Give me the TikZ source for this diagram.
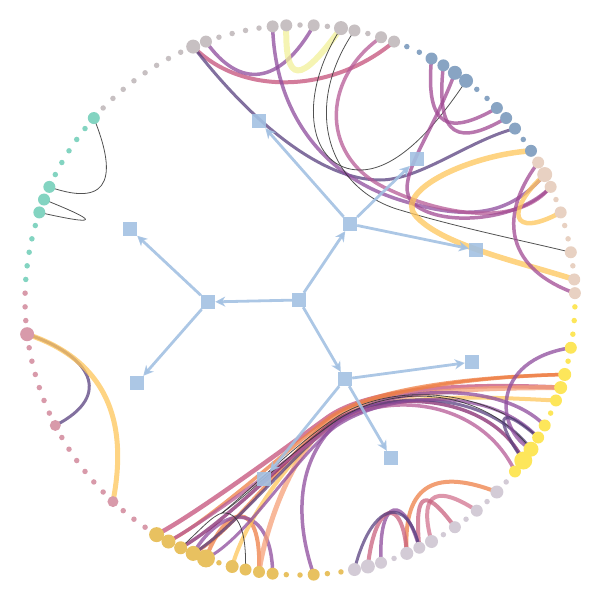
\documentclass[tikz,border=0pt]{standalone}
\usetikzlibrary{arrows.meta}
\definecolor{cY}{HTML}{FDE65A}
\definecolor{cL}{HTML}{D3CBD6}
\definecolor{cG}{HTML}{E8C160}
\definecolor{cP}{HTML}{D89AAA}
\definecolor{cT}{HTML}{83D4C1}
\definecolor{cA}{HTML}{C7C0C2}
\definecolor{cB}{HTML}{88A4C3}
\definecolor{cN}{HTML}{E8D1C2}
\definecolor{tree}{HTML}{A3C1E2}
\definecolor{ecrim}{HTML}{C4507A}
\definecolor{enavy}{HTML}{58407F}
\definecolor{epurp}{HTML}{8D4B9C}
\definecolor{emag}{HTML}{A04A93}
\definecolor{epale}{HTML}{F2F09A}
\definecolor{eyel}{HTML}{FEC55A}
\definecolor{eora}{HTML}{EE7F45}
\definecolor{esal}{HTML}{F6A078}
\definecolor{epink}{HTML}{D2738F}
\definecolor{ered}{HTML}{C9627F}
\definecolor{edmag}{HTML}{86296F}
\definecolor{elil}{HTML}{B65A96}
\begin{document}
\begin{tikzpicture}[x=1pt,y=-1pt,
  leaf/.style={circle,inner sep=0pt,draw=none,minimum size=#1},
  e/.style={line width=#1,opacity=0.75,line cap=round},
  thin/.style={line width=0.8,draw=black!80,opacity=0.85},
  sq/.style={rectangle,fill=tree,inner sep=0pt,minimum size=14pt,opacity=0.9},
  tedge/.style={draw=tree,line width=2.8,opacity=0.9,-{Stealth[length=10pt,width=10pt,inset=3pt]}}]
\useasboundingbox (0,0) rectangle (600,600);
\begin{scope}[shift={(300,300)}]
\foreach \k in {0,...,125}{\coordinate (d\k) at ({(\k+0.5)*2.8571429}:275);}
\end{scope}
% ---- edges: top
\draw[e=4,draw=ecrim] (d86) .. controls (240,95) and (330,95) .. (d101);
\draw[e=3,draw=enavy] (d86) .. controls (250,120) and (320,180) .. (380,180) .. controls (420,180) and (470,140) .. (d112);
\draw[e=3.5,draw=epurp] (d87) .. controls (240,90) and (280,85) .. (d95);
\draw[e=6,draw=epale] (d93) .. controls (285,85) and (300,85) .. (d97);
\draw[e=3.5,draw=epurp] (d92) .. controls (275,110) and (320,175) .. (400,200) .. controls (470,222) and (510,215) .. (d116);
\draw[e=3.5,draw=elil] (d100) .. controls (320,80) and (320,160) .. (390,190) .. controls (450,218) and (520,225) .. (d117);
\draw[thin] (d97) .. controls (295,100) and (310,170) .. (360,170) .. controls (400,170) and (440,120) .. (d107);
\draw[thin] (d98) .. controls (300,110) and (330,190) .. (400,210) .. controls (460,228) and (520,240) .. (d122);
\draw[e=3.5,draw=emag] (d104) .. controls (425,130) and (450,135) .. (d110);
\draw[e=3.5,draw=emag] (d105) .. controls (435,140) and (460,145) .. (d111);
\draw[e=3.5,draw=emag] (d106) .. controls (430,140) and (390,185) .. (415,205) .. controls (445,228) and (520,220) .. (d117);
\draw[e=5.5,draw=eyel] (d114) .. controls (470,155) and (395,190) .. (415,215) .. controls (440,245) and (520,262) .. (d124);
\draw[e=4.5,draw=eyel] (d116) .. controls (505,210) and (510,240) .. (d119);
\draw[e=3.5,draw=emag] (d115) .. controls (495,220) and (510,270) .. (d125);
% ---- left
\draw[e=3,draw=enavy] (d60) .. controls (90,355) and (115,395) .. (d53);
\draw[e=5,draw=eyel] (d60) .. controls (120,365) and (125,440) .. (d46);
\draw[thin] (d77) .. controls (115,170) and (115,210) .. (d71);
\draw[thin] (d70) .. controls (100,222) and (100,226) .. (d69);
% ---- lilac loops
\draw[e=4,draw=eora] (d15) .. controls (440,470) and (402,480) .. (d23);
\draw[e=4,draw=epink] (d17) .. controls (430,480) and (420,500) .. (d21);
\draw[e=4,draw=ered] (d19) .. controls (420,480) and (415,500) .. (d22);
\draw[e=3.5,draw=epurp] (d22) .. controls (405,495) and (378,495) .. (d25);
\draw[e=4,draw=ered] (d23) .. controls (403,495) and (375,500) .. (d26);
\draw[e=3,draw=enavy] (d27) .. controls (372,500) and (408,495) .. (d22);
% ---- gold loops
\draw[e=4,draw=eora] (d38) .. controls (225,505) and (262,495) .. (d34);
\draw[e=3.5,draw=epurp] (d33) .. controls (272,505) and (225,500) .. (d39);
% ---- bundle gold -> yellow
\draw[e=4.5,draw=ecrim] (d42) .. controls (196,514) and (288,446) .. (328,417) .. controls (378,382) and (500,385) .. (d6);
\draw[e=3.5,draw=eora] (d41) .. controls (208,522) and (289,448) .. (329,418) .. controls (379,383) and (500,376) .. (d5);
\draw[e=3.5,draw=eora] (d39) .. controls (233,533) and (290,450) .. (330,420) .. controls (380,385) and (500,376) .. (d5);
\draw[e=5,draw=esal] (d34) .. controls (265,530) and (291,452) .. (331,422) .. controls (381,387) and (500,388) .. (d6);
\draw[e=4,draw=eyel] (d36) .. controls (245,520) and (292,454) .. (332,424) .. controls (382,389) and (500,398) .. (d7);
\draw[e=3.5,draw=edmag] (d40) .. controls (220,527) and (292,453) .. (332,423) .. controls (382,388) and (490,392) .. (d12);
\draw[e=3,draw=enavy] (d39) .. controls (233,530) and (293,454) .. (333,424) .. controls (383,389) and (485,388) .. (d11);
\draw[e=3.5,draw=elil] (d41) .. controls (208,520) and (294,455) .. (334,425) .. controls (384,390) and (480,398) .. (d13);
\draw[e=3,draw=epurp] (d38) .. controls (246,540) and (295,457) .. (335,427) .. controls (385,392) and (490,385) .. (d10);
\draw[e=3.5,draw=epurp] (d30) .. controls (295,520) and (295,460) .. (340,420) .. controls (390,385) and (500,380) .. (d9);
\draw[thin] (d35) .. controls (247,515) and (230,512) .. (222,513) .. controls (250,490) and (300,440) .. (340,415) .. controls (400,380) and (490,392) .. (d10);
\draw[thin] (d40) .. controls (200,530) and (212,516) .. (222,513) .. controls (252,492) and (302,442) .. (342,417) .. controls (402,382) and (485,390) .. (d11);
% ---- yellow loops
\draw[e=3.5,draw=epurp] (d3) .. controls (490,360) and (495,430) .. (d11);
\draw[e=3,draw=enavy] (d10) .. controls (495,400) and (495,420) .. (d12);
% ---- leaves
\foreach \k/\s in {3/12,5/13,6/13,7/12,9/12,10/12,11/15,12/18,13/12,
  15/13,17/12,19/12,21/13,22/12,23/13,25/12,26/14,27/13,
  30/12,33/12,34/12,35/12,36/13,38/18,39/15,40/13,41/14,42/15,
  46/11,53/11,60/14,69/12,70/12,71/12,77/12,
  86/14,87/12,92/12,93/12,95/12,97/14,98/12,100/12,101/12,
  104/12,105/12,106/14,107/14,110/12,111/12,112/12,114/12,
  115/12,116/15,117/12,119/12,122/12,124/12,125/12}{\expandafter\xdef\csname dsz\k\endcsname{\s}}
\foreach \k in {0,...,125}{
  \ifnum\k<14 \def\cc{cY}\else\ifnum\k<28 \def\cc{cL}\else\ifnum\k<43 \def\cc{cG}\else
  \ifnum\k<64 \def\cc{cP}\else\ifnum\k<78 \def\cc{cT}\else\ifnum\k<102 \def\cc{cA}\else
  \ifnum\k<115 \def\cc{cB}\else \def\cc{cN}\fi\fi\fi\fi\fi\fi\fi
  \ifcsname dsz\k\endcsname \edef\ss{\csname dsz\k\endcsname}\else\def\ss{5.5}\fi
  \node[leaf=\ss pt,fill=\cc] (p\k) at (d\k) {};
}
% ---- tree
\node[sq] (r) at (299,300) {};
\node[sq] (a) at (208,302) {};
\node[sq] (b) at (350,224) {};
\node[sq] (c) at (345,379) {};
\node[sq] (a1) at (130,229) {};
\node[sq] (a2) at (137,383) {};
\node[sq] (b1) at (259,121) {};
\node[sq] (b2) at (417,159) {};
\node[sq] (b3) at (476,250) {};
\node[sq] (c1) at (472,362) {};
\node[sq] (c2) at (391,458) {};
\node[sq] (c3) at (264,479) {};
\draw[tedge] (r) -- (a);
\draw[tedge] (r) -- (b);
\draw[tedge] (r) -- (c);
\draw[tedge] (a) -- (a1);
\draw[tedge] (a) -- (a2);
\draw[tedge] (b) -- (b1);
\draw[tedge] (b) -- (b2);
\draw[tedge] (b) -- (b3);
\draw[tedge] (c) -- (c1);
\draw[tedge] (c) -- (c2);
\draw[tedge] (c) -- (c3);
\end{tikzpicture}
\end{document}
